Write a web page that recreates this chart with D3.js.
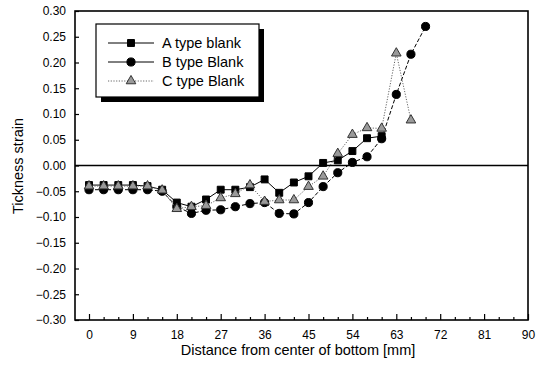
<!DOCTYPE html>
<html>
<head>
<meta charset="utf-8">
<script src="https://cdn.jsdelivr.net/npm/d3@7"></script>
<style>
  body { margin: 0; background: #fff; }
  svg { display: block; font-family: Arial, "Liberation Sans", sans-serif; }
</style>
</head>
<body>
<div id="chart"></div>
<script>
// distance from center of bottom [mm]
const distA = [0, 3, 6, 9, 12, 15, 18, 21, 24, 27, 30, 33, 36, 39, 42, 45, 48, 51, 54, 57, 60];
const distB = [0, 3, 6, 9, 12, 15, 18, 21, 24, 27, 30, 33, 36, 39, 42, 45, 48, 51, 54, 57, 60, 63, 66, 69];
const distC = [0, 3, 6, 9, 12, 15, 18, 21, 24, 27, 30, 33, 36, 39, 42, 45, 48, 51, 54, 57, 60, 63, 66];

const strainA = [-0.038, -0.038, -0.038, -0.038, -0.040, -0.047, -0.072, -0.080, -0.066, -0.047, -0.047,
  -0.042, -0.027, -0.053, -0.033, -0.021, 0.005, 0.010, 0.028, 0.053, 0.057];
const strainB = [-0.047, -0.047, -0.047, -0.047, -0.047, -0.050, -0.080, -0.093, -0.087, -0.086, -0.080,
  -0.074, -0.072, -0.093, -0.094, -0.072, -0.041, -0.014, 0.006, 0.017, 0.052, 0.138, 0.216, 0.270];
const strainC = [-0.040, -0.040, -0.040, -0.040, -0.040, -0.048, -0.084, -0.080, -0.078, -0.063, -0.055,
  -0.038, -0.070, -0.067, -0.067, -0.041, -0.021, 0.023, 0.060, 0.073, 0.072, 0.218, 0.088];

const seriesNames = ["A type blank", "B type Blank", "C type Blank"];
const xTicks = [0, 9, 18, 27, 36, 45, 54, 63, 72, 81, 90];
const yTicks = [0.30, 0.25, 0.20, 0.15, 0.10, 0.05, 0.00, -0.05, -0.10, -0.15, -0.20, -0.25, -0.30];

const width = 542, height = 370;
const frame = {left: 75, right: 528, top: 11, bottom: 320};

const svg = d3.select("#chart").append("svg")
    .attr("width", width)
    .attr("height", height);

const x = d3.scaleLinear().domain([0, 90]).range([89, 528]);
const y = d3.scaleLinear().domain([-0.30, 0.30]).range([frame.bottom, frame.top]);

// frame
svg.append("rect")
    .attr("x", frame.left)
    .attr("y", frame.top)
    .attr("width", frame.right - frame.left)
    .attr("height", frame.bottom - frame.top)
    .attr("fill", "none")
    .attr("stroke", "#000")
    .attr("stroke-width", 1.6);

// zero line
svg.append("line")
    .attr("x1", frame.left).attr("x2", frame.right)
    .attr("y1", y(0)).attr("y2", y(0))
    .attr("stroke", "#000")
    .attr("stroke-width", 1.3);

// x axis: ticks pointing inward, minor every 3 mm
const minorX = d3.range(0, 91, 3).filter(v => v % 9 !== 0);
svg.append("g")
    .attr("transform", "translate(0," + frame.bottom + ")")
    .call(d3.axisBottom(x).tickValues(minorX).tickSize(-3).tickFormat(""))
    .call(g => g.select(".domain").remove());
svg.append("g")
    .attr("class", "x-axis")
    .attr("transform", "translate(0," + frame.bottom + ")")
    .call(d3.axisBottom(x).tickValues(xTicks).tickSize(-6).tickPadding(10).tickFormat(d3.format("d")))
    .call(g => g.select(".domain").remove());

// y axis
svg.append("g")
    .attr("class", "y-axis")
    .attr("transform", "translate(" + frame.left + ",0)")
    .call(d3.axisLeft(y).tickValues(yTicks).tickSize(-4).tickPadding(9).tickFormat(d3.format(".2f")))
    .call(g => g.select(".domain").remove());

svg.selectAll(".tick line").attr("stroke", "#000").attr("stroke-width", 1.2);
svg.selectAll(".tick text").attr("font-size", 12).attr("fill", "#000")
    .attr("font-family", "Arial, 'Liberation Sans', sans-serif");
svg.select(".x-axis").selectAll(".tick text").attr("dy", "0.71em");

// axis titles
svg.append("text")
    .attr("x", 298)
    .attr("y", 355)
    .attr("text-anchor", "middle")
    .attr("font-size", 14.5)
    .text("Distance from center of bottom [mm]");

svg.append("text")
    .attr("transform", "translate(23,166) rotate(-90)")
    .attr("text-anchor", "middle")
    .attr("font-size", 14.5)
    .text("Tickness strain");

// series
const series = [
  {name: seriesNames[0], xs: distA, ys: strainA, symbol: d3.symbolSquare, size: 48,
   fill: "#000", stroke: "#000", line: "#000", dash: null, lw: 1},
  {name: seriesNames[1], xs: distB, ys: strainB, symbol: d3.symbolCircle, size: 52,
   fill: "#000", stroke: "#000", line: "#000", dash: "4,2", lw: 1},
  {name: seriesNames[2], xs: distC, ys: strainC, symbol: d3.symbolTriangle, size: 40,
   fill: "#9a9a9a", stroke: "#333", line: "#666", dash: "1.2,1.5", lw: 1}
];

const line = d3.line().x(d => x(d[0])).y(d => y(d[1]));

series.forEach(s => {
  const pts = s.xs.map((v, i) => [v, s.ys[i]]);
  svg.append("path")
      .datum(pts)
      .attr("fill", "none")
      .attr("stroke", s.line)
      .attr("stroke-width", s.lw)
      .attr("stroke-dasharray", s.dash)
      .attr("d", line);
  svg.append("g").selectAll("path")
      .data(pts)
    .enter().append("path")
      .attr("transform", d => "translate(" + x(d[0]) + "," + y(d[1]) + ")")
      .attr("d", d3.symbol().type(s.symbol).size(s.size))
      .attr("fill", s.fill)
      .attr("stroke", s.stroke)
      .attr("stroke-width", 1);
});

// legend with drop shadow
const lg = {x: 96, y: 24, w: 163, h: 73};
svg.append("rect")
    .attr("x", lg.x + 5).attr("y", lg.y + 5)
    .attr("width", lg.w).attr("height", lg.h)
    .attr("fill", "#000");
svg.append("rect")
    .attr("x", lg.x).attr("y", lg.y)
    .attr("width", lg.w).attr("height", lg.h)
    .attr("fill", "#fff")
    .attr("stroke", "#000")
    .attr("stroke-width", 1.2);

series.forEach((s, i) => {
  const ly = 43 + i * 19;
  svg.append("line")
      .attr("x1", 108).attr("x2", 154)
      .attr("y1", ly).attr("y2", ly)
      .attr("stroke", s.line)
      .attr("stroke-width", s.lw)
      .attr("stroke-dasharray", i === 2 ? s.dash : null);
  svg.append("path")
      .attr("transform", "translate(131," + ly + ")")
      .attr("d", d3.symbol().type(s.symbol).size(s.size))
      .attr("fill", s.fill)
      .attr("stroke", s.stroke);
  svg.append("text")
      .attr("x", 162)
      .attr("y", ly)
      .attr("dy", "0.35em")
      .attr("font-size", 14.5)
      .text(s.name);
});
</script>
</body>
</html>
